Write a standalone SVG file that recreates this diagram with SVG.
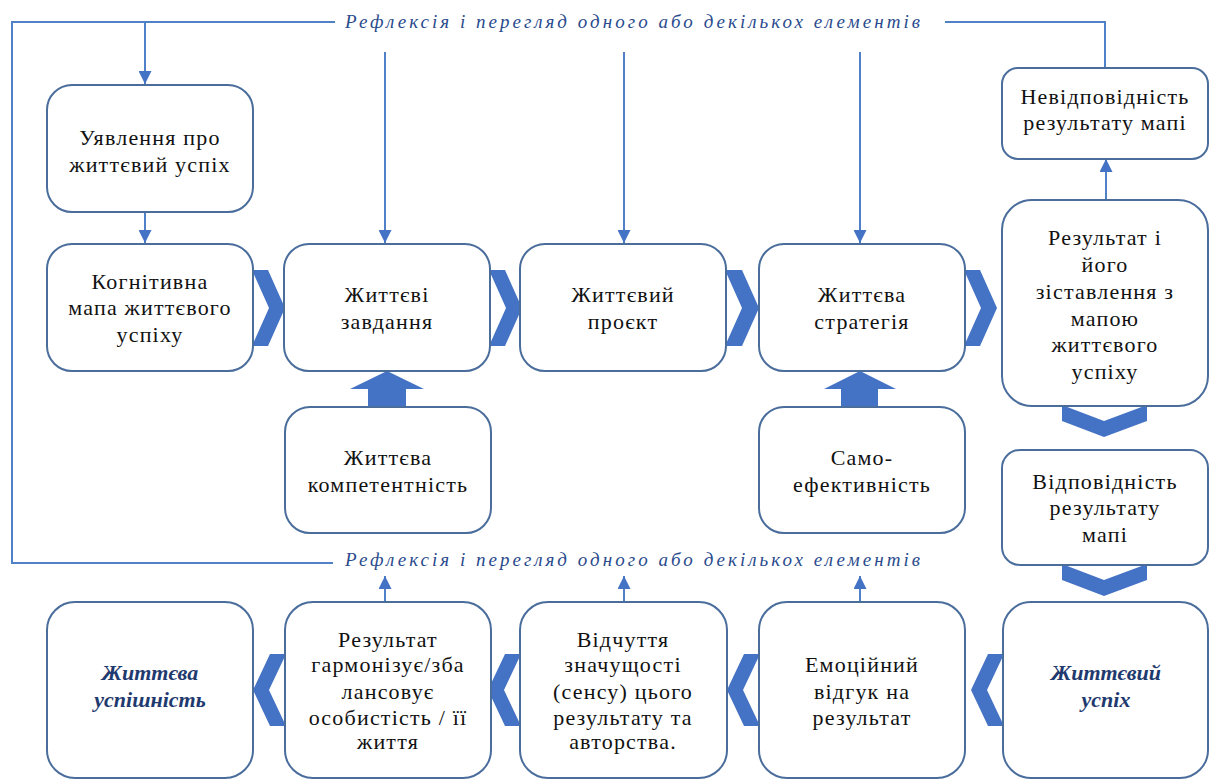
<svg xmlns="http://www.w3.org/2000/svg" width="1211" height="780" viewBox="0 0 1211 780">
<defs>
<marker id="ah" viewBox="0 0 10 10" refX="10" refY="5" markerWidth="13" markerHeight="13" markerUnits="userSpaceOnUse" orient="auto">
<path d="M0,0 L10,5 L0,10 z" fill="#4472C4"/>
</marker>
</defs>
<style>
.box{fill:#fff;stroke:#4a6d9c;stroke-width:2}
.chev{fill:#4472C4}
.ln{fill:none;stroke:#5080c8;stroke-width:2}
.arr{fill:none;stroke:#5080c8;stroke-width:2;marker-end:url(#ah)}
.t{font-size:22px;fill:#111;text-anchor:middle;letter-spacing:1.2px}
.ti{font-size:22px;font-style:italic;font-weight:bold;fill:#1f3a6e;text-anchor:middle}
.rf{font-size:19px;font-style:italic;fill:#2a4b8d}
</style>
<rect width="1211" height="780" fill="#fff"/>

<g id="connectors">
<path class="ln" d="M333,563 H12 V22 H335"/>
<path class="ln" d="M945,22 H1105 V68"/>
<path class="arr" d="M145,22 V84"/>
<path class="arr" d="M145,212 V243"/>
<path class="arr" d="M385,52 V243"/>
<path class="arr" d="M624,52 V243"/>
<path class="arr" d="M860,52 V243"/>
<path class="arr" d="M1106,200 V159"/>
<path class="arr" d="M385,602 V576"/>
<path class="arr" d="M624,602 V576"/>
<path class="arr" d="M860,602 V576"/>
<polygon class="chev" points="252,270 268,270 285,308 268,346 252,346 269,308"/>
<polygon class="chev" points="489,270 505,270 522,308 505,346 489,346 506,308"/>
<polygon class="chev" points="725,270 742,270 759,308 742,346 725,346 742,308"/>
<polygon class="chev" points="964,270 980,270 997,308 980,346 964,346 981,308"/>
<polygon class="chev" points="1062,405 1104,421 1147,405 1147,421 1104,437 1062,421"/>
<polygon class="chev" points="1062,564 1104,580 1147,564 1147,580 1104,596 1062,580"/>
<polygon class="chev" points="286,654 270,654 253,690 270,726 286,726 269,690"/>
<polygon class="chev" points="521,654 505,654 488,690 505,726 521,726 504,690"/>
<polygon class="chev" points="760,654 744,654 727,690 744,726 760,726 743,690"/>
<polygon class="chev" points="1004,654 988,654 971,690 988,726 1004,726 987,690"/>
<polygon class="chev" points="387,371 424,389 406,389 406,409 368,409 368,389 350,389"/>
<polygon class="chev" points="860,371 896,389 878,389 878,409 841,409 841,389 824,389"/>
</g>

<g font-family="Liberation Serif, Times New Roman, DejaVu Serif, serif">
<text class="rf" x="345" y="28" textLength="575" lengthAdjust="spacing">Рефлексія і перегляд одного або декількох елементів</text>
<text class="rf" x="345" y="566" textLength="575" lengthAdjust="spacing">Рефлексія і перегляд одного або декількох елементів</text>

<g id="n1"><rect class="box" x="47" y="85" width="206" height="127" rx="25"/>
<text class="t" x="150" y="145">Уявлення про</text><text class="t" x="150" y="172">життєвий успіх</text></g>

<g id="n2"><rect class="box" x="47" y="244" width="206" height="127" rx="25"/>
<text class="t" x="150" y="289">Когнітивна</text><text class="t" x="150" y="315">мапа життєвого</text><text class="t" x="150" y="342">успіху</text></g>

<g id="n3"><rect class="box" x="284" y="244" width="206" height="127" rx="25"/>
<text class="t" x="387" y="302">Життєві</text><text class="t" x="387" y="329">завдання</text></g>

<g id="n4"><rect class="box" x="520" y="244" width="206" height="127" rx="25"/>
<text class="t" x="623" y="302">Життєвий</text><text class="t" x="623" y="329">проєкт</text></g>

<g id="n5"><rect class="box" x="759" y="244" width="206" height="127" rx="25"/>
<text class="t" x="862" y="302">Життєва</text><text class="t" x="862" y="329">стратегія</text></g>

<g id="n6"><rect class="box" x="1002" y="200" width="206" height="206" rx="30"/>
<text class="t" x="1105" y="245">Результат і</text><text class="t" x="1105" y="272">його</text><text class="t" x="1105" y="299">зіставлення з</text><text class="t" x="1105" y="326">мапою</text><text class="t" x="1105" y="352">життєвого</text><text class="t" x="1105" y="379">успіху</text></g>

<g id="n7"><rect class="box" x="1002" y="68" width="206" height="91" rx="16"/>
<text class="t" x="1105" y="104">Невідповідність</text><text class="t" x="1105" y="130">результату мапі</text></g>

<g id="n8"><rect class="box" x="1002" y="450" width="206" height="115" rx="18"/>
<text class="t" x="1105" y="489">Відповідність</text><text class="t" x="1105" y="515">результату</text><text class="t" x="1105" y="542">мапі</text></g>

<g id="n9"><rect class="box" x="285" y="407" width="206" height="126" rx="25"/>
<text class="t" x="388" y="465">Життєва</text><text class="t" x="388" y="492">компетентність</text></g>

<g id="n10"><rect class="box" x="759" y="407" width="206" height="126" rx="25"/>
<text class="t" x="862" y="465">Само-</text><text class="t" x="862" y="492">ефективність</text></g>

<g id="b1"><rect class="box" x="47" y="602" width="206" height="176" rx="28"/>
<text class="ti" x="150" y="680">Життєва</text><text class="ti" x="150" y="707">успішність</text></g>

<g id="b2"><rect class="box" x="285" y="602" width="206" height="176" rx="28"/>
<text class="t" x="388" y="647">Результат</text><text class="t" x="388" y="672">гармонізує/зба</text><text class="t" x="388" y="699">лансовує</text><text class="t" x="388" y="725">особистість / її</text><text class="t" x="388" y="749">життя</text></g>

<g id="b3"><rect class="box" x="520" y="602" width="207" height="176" rx="28"/>
<text class="t" x="623" y="647">Відчуття</text><text class="t" x="623" y="672">значущості</text><text class="t" x="623" y="699">(сенсу) цього</text><text class="t" x="623" y="725">результату та</text><text class="t" x="623" y="749">авторства.</text></g>

<g id="b4"><rect class="box" x="759" y="602" width="206" height="176" rx="28"/>
<text class="t" x="862" y="672">Емоційний</text><text class="t" x="862" y="699">відгук на</text><text class="t" x="862" y="725">результат</text></g>

<g id="b5"><rect class="box" x="1003" y="602" width="205" height="176" rx="28"/>
<text class="ti" x="1106" y="680">Життєвий</text><text class="ti" x="1106" y="707">успіх</text></g>
</g>
</svg>
